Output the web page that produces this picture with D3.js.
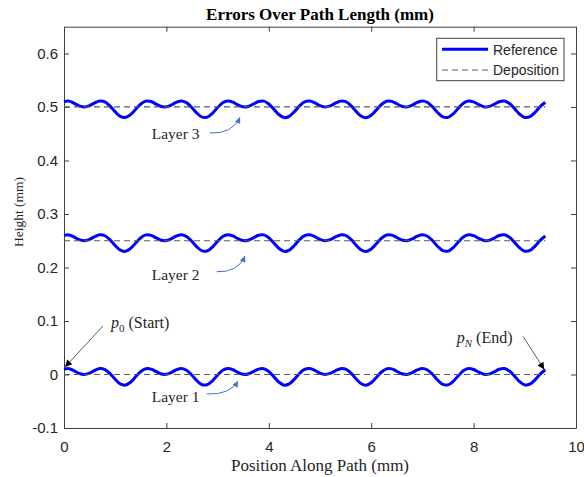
<!DOCTYPE html>
<html>
<head>
<meta charset="utf-8">
<script src="https://cdn.jsdelivr.net/npm/d3@7"></script>
<style>
  body { margin: 0; background: #fff; }
  svg { display: block; }
</style>
</head>
<body>
<script>
// sample positions along the path (mm)
var positions = [0,0.1,0.2,0.3,0.4,0.5,0.6,0.7,0.8,0.9,
  1,1.1,1.2,1.3,1.4,1.5,1.6,1.7,1.8,1.9,
  2,2.1,2.2,2.3,2.4,2.5,2.6,2.7,2.8,2.9,
  3,3.1,3.2,3.3,3.4,3.5,3.6,3.7,3.8,3.9,
  4,4.1,4.2,4.3,4.4,4.5,4.6,4.7,4.8,4.9,
  5,5.1,5.2,5.3,5.4,5.5,5.6,5.7,5.8,5.9,
  6,6.1,6.2,6.3,6.4,6.5,6.6,6.7,6.8,6.9,
  7,7.1,7.2,7.3,7.4,7.5,7.6,7.7,7.8,7.9,
  8,8.1,8.2,8.3,8.4,8.5,8.6,8.7,8.8,8.9,
  9,9.1,9.2,9.3,9.4];

// reference heights (mm)
var layer1 = [0.0100,0.0109,0.0069,0.0019,0.0000,0.0026,0.0076,0.0111,0.0093,0.0017,
  -0.0090,-0.0176,-0.0198,-0.0144,-0.0043,0.0056,0.0109,0.0101,0.0053,0.0009,
  0.0003,0.0039,0.0090,0.0112,0.0076,-0.0014,-0.0120,-0.0191,-0.0190,-0.0118,
  -0.0011,0.0078,0.0112,0.0089,0.0038,0.0003,0.0010,0.0055,0.0101,0.0109,
  0.0055,-0.0045,-0.0146,-0.0199,-0.0175,-0.0088,0.0019,0.0095,0.0111,0.0075,
  0.0025,0.0000,0.0020,0.0070,0.0109,0.0099,0.0029,-0.0077,-0.0168,-0.0200,
  -0.0155,-0.0056,0.0046,0.0106,0.0105,0.0060,0.0013,0.0001,0.0033,0.0085,
  0.0112,0.0084,-0.0001,-0.0108,-0.0186,-0.0194,-0.0130,-0.0025,0.0069,0.0112,
  0.0094,0.0045,0.0005,0.0007,0.0048,0.0097,0.0111,0.0064,-0.0031,-0.0136,
  -0.0196,-0.0182,-0.0100,0.0006,0.0088];

var layer2 = [0.2600,0.2609,0.2569,0.2519,0.2500,0.2526,0.2576,0.2611,0.2593,0.2517,
  0.2410,0.2324,0.2302,0.2356,0.2457,0.2556,0.2609,0.2601,0.2553,0.2509,
  0.2503,0.2539,0.2590,0.2612,0.2576,0.2486,0.2380,0.2309,0.2310,0.2382,
  0.2489,0.2578,0.2612,0.2589,0.2538,0.2503,0.2510,0.2555,0.2601,0.2609,
  0.2555,0.2455,0.2354,0.2301,0.2325,0.2412,0.2519,0.2595,0.2611,0.2575,
  0.2525,0.2500,0.2520,0.2570,0.2609,0.2599,0.2529,0.2423,0.2332,0.2300,
  0.2345,0.2444,0.2546,0.2606,0.2605,0.2560,0.2513,0.2501,0.2533,0.2585,
  0.2612,0.2584,0.2499,0.2392,0.2314,0.2306,0.2370,0.2475,0.2569,0.2612,
  0.2594,0.2545,0.2505,0.2507,0.2548,0.2597,0.2611,0.2564,0.2469,0.2364,
  0.2304,0.2318,0.2400,0.2506,0.2588];

var layer3 = [0.5100,0.5109,0.5069,0.5019,0.5000,0.5026,0.5076,0.5111,0.5093,0.5017,
  0.4910,0.4824,0.4802,0.4856,0.4957,0.5056,0.5109,0.5101,0.5053,0.5009,
  0.5003,0.5039,0.5090,0.5112,0.5076,0.4986,0.4880,0.4809,0.4810,0.4882,
  0.4989,0.5078,0.5112,0.5089,0.5038,0.5003,0.5010,0.5055,0.5101,0.5109,
  0.5055,0.4955,0.4854,0.4801,0.4825,0.4912,0.5019,0.5095,0.5111,0.5075,
  0.5025,0.5000,0.5020,0.5070,0.5109,0.5099,0.5029,0.4923,0.4832,0.4800,
  0.4845,0.4944,0.5046,0.5106,0.5105,0.5060,0.5013,0.5001,0.5033,0.5085,
  0.5112,0.5084,0.4999,0.4892,0.4814,0.4806,0.4870,0.4975,0.5069,0.5112,
  0.5094,0.5045,0.5005,0.5007,0.5048,0.5097,0.5111,0.5064,0.4969,0.4864,
  0.4804,0.4818,0.4900,0.5006,0.5088];

var depositionHeights = [0, 0.25, 0.5];
var layerNames = ["Layer 1", "Layer 2", "Layer 3"];
var xTicks = [0, 2, 4, 6, 8, 10];
var yTicks = [-0.1, 0, 0.1, 0.2, 0.3, 0.4, 0.5, 0.6];
var yTickLabels = ["-0.1", "0", "0.1", "0.2", "0.3", "0.4", "0.5", "0.6"];
var legendLabels = ["Reference", "Deposition"];

var margin = {left: 64, top: 26.7, right: 8, bottom: 49};
var width = 512;
var height = 401.3;
var axisColor = "#404040";

var x = d3.scaleLinear().domain([0, 10]).range([0, width]);
var y = d3.scaleLinear().domain([-0.1, 0.65]).range([height, 0]);

var svg = d3.select("body").append("svg")
  .attr("width", 584).attr("height", 477)
  .style("font-family", "'Liberation Serif', 'Times New Roman', serif");

var defs = svg.append("defs");
defs.append("marker").attr("id", "headBlack")
  .attr("viewBox", "0 0 10 10").attr("refX", 10).attr("refY", 5)
  .attr("markerUnits", "userSpaceOnUse").attr("markerWidth", 9).attr("markerHeight", 7)
  .attr("orient", "auto")
  .append("path").attr("d", "M0,0L10,5L0,10z").attr("fill", "#000");
defs.append("marker").attr("id", "headBlue")
  .attr("viewBox", "0 0 10 10").attr("refX", 10).attr("refY", 5)
  .attr("markerUnits", "userSpaceOnUse").attr("markerWidth", 7).attr("markerHeight", 6)
  .attr("orient", "auto")
  .append("path").attr("d", "M0,0L10,5L0,10z").attr("fill", "#4472c4");

var chartGroup = svg.append("g")
  .attr("transform", "translate(" + margin.left + "," + margin.top + ")");

// title
svg.append("text")
  .attr("x", margin.left + width / 2).attr("y", 19.5)
  .attr("text-anchor", "middle")
  .style("font-weight", "bold").style("font-size", "17px")
  .text("Errors Over Path Length (mm)");

// axes (MATLAB-like box, ticks inside)
var xAxis = d3.axisBottom(x).tickValues(xTicks).tickSizeInner(-5).tickSizeOuter(0).tickPadding(13);
var yAxis = d3.axisLeft(y).tickValues(yTicks).tickSizeInner(-5).tickSizeOuter(0).tickPadding(6)
  .tickFormat(function(d, i){ return yTickLabels[i]; });

var gx = chartGroup.append("g").attr("transform", "translate(0," + height + ")").call(xAxis);
var gy = chartGroup.append("g").call(yAxis);
var gxt = chartGroup.append("g").call(d3.axisTop(x).tickValues(xTicks).tickSizeInner(-5).tickSizeOuter(0).tickFormat(""));
var gyr = chartGroup.append("g").attr("transform", "translate(" + width + ",0)")
  .call(d3.axisRight(y).tickValues(yTicks).tickSizeInner(-5).tickSizeOuter(0).tickFormat(""));

[gx, gy, gxt, gyr].forEach(function(g){
  g.selectAll("path, line").attr("stroke", axisColor).attr("stroke-width", 1);
  g.selectAll("text").attr("fill", "#262626")
    .style("font-family", "'Liberation Sans', Arial, sans-serif").style("font-size", "15px");
});

// axis labels
svg.append("text")
  .attr("x", margin.left + width / 2).attr("y", 471)
  .attr("text-anchor", "middle").style("font-size", "17px").attr("fill", "#262626")
  .text("Position Along Path (mm)");
svg.append("text")
  .attr("transform", "translate(23,212) rotate(-90)")
  .attr("text-anchor", "middle").style("font-size", "13.5px").attr("fill", "#262626")
  .text("Height (mm)");

// reference lines
var layers = [layer1, layer2, layer3];
var line = d3.line()
  .x(function(d){ return x(d[0]); })
  .y(function(d){ return y(d[1]); })
  .curve(d3.curveCatmullRom.alpha(0.5));

chartGroup.selectAll(".reference")
  .data(layers)
  .enter().append("path")
  .attr("class", "reference")
  .attr("d", function(vals){ return line(vals.map(function(v, i){ return [positions[i], v]; })); })
  .attr("fill", "none").attr("stroke", "#0000ff").attr("stroke-width", 3)
  .attr("stroke-linejoin", "round");

// deposition dashed lines
chartGroup.selectAll(".deposition")
  .data(depositionHeights)
  .enter().append("line")
  .attr("class", "deposition")
  .attr("x1", x(positions[0])).attr("x2", x(positions[positions.length - 1]))
  .attr("y1", function(d){ return y(d); }).attr("y2", function(d){ return y(d); })
  .attr("stroke", "#5a5a5a").attr("stroke-width", 1.2).attr("stroke-dasharray", "6,4");

// layer annotations: text anchor and curved arrow, in data units
var layerNotes = [
  {tx: 1.713, ty: -0.0514, sx: 2.787, sy: -0.0364, ex: 3.398, ey: -0.0121},
  {tx: 1.713, ty: 0.1775, sx: 2.982, sy: 0.1921, ex: 3.535, ey: 0.2214},
  {tx: 1.713, ty: 0.4400, sx: 2.852, sy: 0.4513, ex: 3.4375, ey: 0.4807}
];

layerNotes.forEach(function(n, i){
  chartGroup.append("text")
    .attr("x", x(n.tx)).attr("y", y(n.ty))
    .style("font-size", "15.5px").attr("fill", "#262626")
    .text(layerNames[i]);
  var sx = x(n.sx), sy = y(n.sy), ex = x(n.ex), ey = y(n.ey);
  var cx = ex - 0.25 * (ex - sx), cy = sy + 1;
  chartGroup.append("path")
    .attr("d", "M" + sx + "," + sy + "Q" + cx + "," + cy + " " + ex + "," + ey)
    .attr("fill", "none").attr("stroke", "#4472c4").attr("stroke-width", 1)
    .attr("marker-end", "url(#headBlue)");
});

// start / end annotations
function pointNote(tx, ty, sub, subItalic, rest, sx, sy, ex, ey){
  var t = chartGroup.append("text")
    .attr("x", x(tx)).attr("y", y(ty))
    .style("font-size", "16px").attr("fill", "#262626");
  t.append("tspan").style("font-style", "italic").text("p");
  t.append("tspan").attr("dy", 4).style("font-size", "11px")
    .style("font-style", subItalic ? "italic" : "normal").text(sub);
  t.append("tspan").attr("dy", -4).text(" " + rest);
  chartGroup.append("line")
    .attr("x1", x(sx)).attr("y1", y(sy)).attr("x2", x(ex)).attr("y2", y(ey))
    .attr("stroke", "#333").attr("stroke-width", 0.8)
    .attr("marker-end", "url(#headBlack)");
}
pointNote(0.918, 0.087, "0", false, "(Start)", 0.762, 0.0906, 0.02, 0.014);
pointNote(7.67, 0.059, "N", true, "(End)", 8.97, 0.0707, 9.38, 0.0095);

// legend
var legend = svg.append("g");
legend.append("rect")
  .attr("x", 436.7).attr("y", 38.3).attr("width", 127.3).attr("height", 42.4)
  .attr("fill", "#fff").attr("stroke", axisColor).attr("stroke-width", 1);
legend.append("line")
  .attr("x1", 442).attr("x2", 488).attr("y1", 49.3).attr("y2", 49.3)
  .attr("stroke", "#0000ff").attr("stroke-width", 3);
legend.append("line")
  .attr("x1", 442).attr("x2", 488).attr("y1", 70).attr("y2", 70)
  .attr("stroke", "#5a5a5a").attr("stroke-width", 1.2).attr("stroke-dasharray", "6,4");
legend.selectAll(".legtext")
  .data(legendLabels)
  .enter().append("text")
  .attr("x", 493).attr("y", function(d, i){ return 54.5 + i * 20.7; })
  .style("font-family", "'Liberation Sans', Arial, sans-serif").style("font-size", "14px")
  .attr("fill", "#262626")
  .text(function(d){ return d; });
</script>
</body>
</html>
